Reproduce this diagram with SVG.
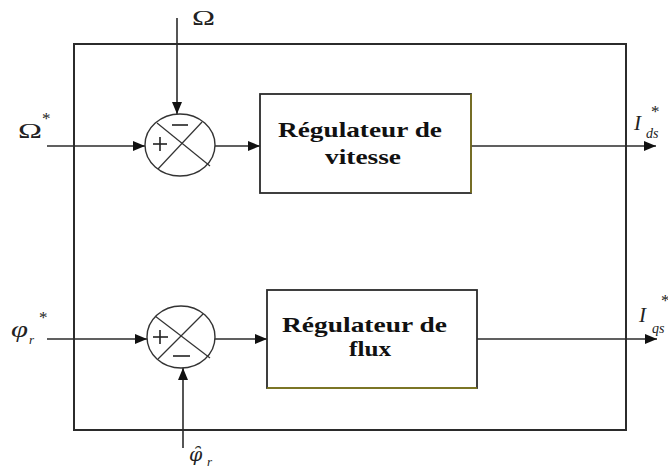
<svg xmlns="http://www.w3.org/2000/svg" width="668" height="470" viewBox="0 0 668 470">
<style>
.ln{stroke:#2b2b2b;stroke-width:1.6;fill:none}
.box{stroke:#2b2b2b;stroke-width:1.8;fill:#fff}
.sum{stroke:#333;stroke-width:1.4;fill:#fff}
.x{stroke:#333;stroke-width:1.2}
.sg{stroke:#222;stroke-width:1.6}
.lbl{font-family:"Liberation Serif","Times New Roman",serif;font-weight:bold;font-size:22px;fill:#111}
.sym{font-family:"Liberation Serif","Times New Roman",serif;fill:#222}
.it{font-style:italic}
</style>
<defs>
<marker id="ar" viewBox="0 0 12 10" refX="12" refY="5" markerWidth="12" markerHeight="10" markerUnits="userSpaceOnUse" orient="auto">
<path d="M0,0 L12,5 L0,10 Z" fill="#111"/>
</marker>
</defs>
<rect id="frame" x="74" y="44" width="552" height="386" class="ln" style="stroke-width:2"/>
<g id="connectors">
<line x1="177" y1="18" x2="177" y2="114" class="ln" marker-end="url(#ar)"/>
<line x1="47" y1="146" x2="145" y2="146" class="ln" marker-end="url(#ar)"/>
<line x1="215" y1="146" x2="260" y2="146" class="ln" marker-end="url(#ar)"/>
<line x1="471" y1="146" x2="656" y2="146" class="ln" marker-end="url(#ar)"/>
<line x1="47" y1="339" x2="147" y2="339" class="ln" marker-end="url(#ar)"/>
<line x1="215" y1="339" x2="267" y2="339" class="ln" marker-end="url(#ar)"/>
<line x1="477" y1="339" x2="657" y2="339" class="ln" marker-end="url(#ar)"/>
<line x1="183" y1="448" x2="183" y2="368" class="ln" marker-end="url(#ar)"/>
</g>
<g id="sum1">
<ellipse cx="180" cy="145" rx="35" ry="31" class="sum"/>
<line x1="157" y1="123" x2="210" y2="166" class="x"/>
<line x1="202" y1="122" x2="158" y2="169" class="x"/>
<line x1="153" y1="144" x2="167" y2="144" class="sg"/>
<line x1="160" y1="137" x2="160" y2="151" class="sg"/>
<line x1="172" y1="125" x2="188" y2="125" class="sg"/>
</g>
<g id="sum2">
<ellipse cx="181" cy="337" rx="34" ry="31" class="sum"/>
<line x1="155" y1="316" x2="210" y2="358" class="x"/>
<line x1="203" y1="314" x2="158" y2="359" class="x"/>
<line x1="153" y1="337" x2="168" y2="337" class="sg"/>
<line x1="160" y1="330" x2="160" y2="344" class="sg"/>
<line x1="173" y1="356" x2="190" y2="356" class="sg"/>
</g>
<g id="reg_vitesse">
<rect x="260" y="94" width="211" height="99" class="box"/>
<line x1="471" y1="94" x2="471" y2="193" stroke="#c8b400" stroke-width="0.8"/>
<text x="278" y="137" class="lbl" textLength="164" lengthAdjust="spacingAndGlyphs">Régulateur de</text>
<text x="325" y="164" class="lbl" textLength="76" lengthAdjust="spacingAndGlyphs">vitesse</text>
</g>
<g id="reg_flux">
<rect x="267" y="290" width="210" height="98" class="box"/>
<line x1="267" y1="388" x2="477" y2="388" stroke="#d8c800" stroke-width="0.8"/>
<text x="282" y="332" class="lbl" textLength="165" lengthAdjust="spacingAndGlyphs">Régulateur de</text>
<text x="349" y="356" class="lbl" textLength="42" lengthAdjust="spacingAndGlyphs">flux</text>
</g>
<g id="labels">
<text x="192" y="25" class="sym" font-size="21" textLength="23" lengthAdjust="spacingAndGlyphs">Ω</text>
<text x="18" y="138" class="sym" font-size="21" textLength="24" lengthAdjust="spacingAndGlyphs">Ω</text>
<text x="42" y="124" class="sym" font-size="17">*</text>
<text x="634" y="130" class="sym it" font-size="21">I</text>
<text x="646" y="138" class="sym it" font-size="14">ds</text>
<text x="651" y="117" class="sym" font-size="17">*</text>
<text x="639" y="322" class="sym it" font-size="21">I</text>
<text x="652" y="333" class="sym it" font-size="14">qs</text>
<text x="661" y="306" class="sym" font-size="17">*</text>
<text x="11" y="337" class="sym it" font-size="24" textLength="17" lengthAdjust="spacingAndGlyphs">φ</text>
<text x="29" y="344" class="sym it" font-size="13">r</text>
<text x="39" y="323" class="sym" font-size="17">*</text>
<text x="189" y="461" style="font-family:'DejaVu Serif',serif;font-style:italic;fill:#222" font-size="19">φ̑</text>
<text x="207" y="466" class="sym it" font-size="13">r</text>
</g>
</svg>
